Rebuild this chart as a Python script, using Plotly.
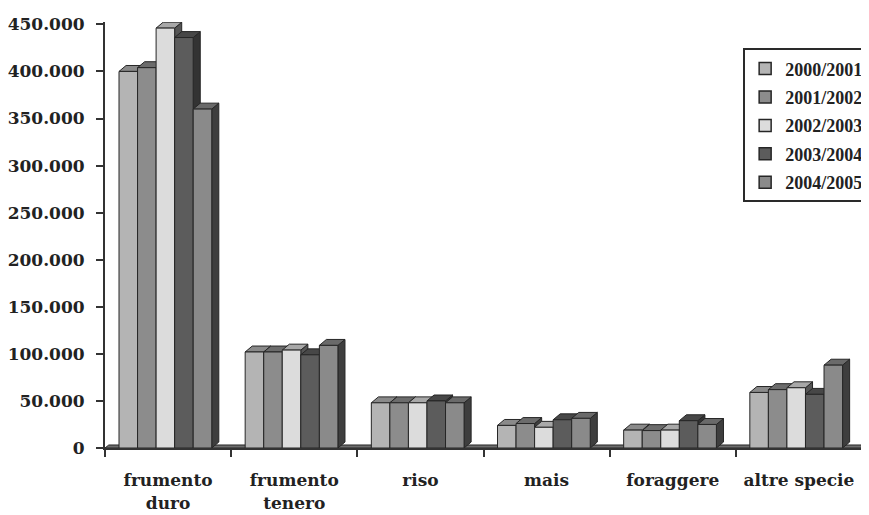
import plotly.graph_objects as go

# ---------------- data ----------------
categories = ["frumento duro", "frumento tenero", "riso", "mais", "foraggere", "altre specie"]
category_labels = ["frumento<br>duro", "frumento<br>tenero", "riso", "mais", "foraggere", "altre specie"]
seasons = ["2000/2001", "2001/2002", "2002/2003", "2003/2004", "2004/2005"]

v_2000_2001 = [400000, 102000, 48000, 24000, 19000, 59000]
v_2001_2002 = [404000, 102000, 48000, 26000, 18500, 62000]
v_2002_2003 = [446000, 104000, 48000, 22000, 19000, 64000]
v_2003_2004 = [436000, 99000, 50000, 30000, 29000, 57000]
v_2004_2005 = [360000, 109000, 48000, 31500, 25000, 88000]
series_values = [v_2000_2001, v_2001_2002, v_2002_2003, v_2003_2004, v_2004_2005]

y_tick_values = [0, 50000, 100000, 150000, 200000, 250000, 300000, 350000, 400000, 450000]
y_tick_labels = ["0", "50.000", "100.000", "150.000", "200.000", "250.000",
                 "300.000", "350.000", "400.000", "450.000"]

# ---------------- style ----------------
front_colors = ["#b4b4b4", "#8c8c8c", "#dcdcdc", "#5c5c5c", "#8a8a8a"]
top_colors = ["#8a8a8a", "#6c6c6c", "#a8a8a8", "#474747", "#6a6a6a"]
side_colors = ["#4a4a4a", "#3e3e3e", "#555555", "#333333", "#3e3e3e"]
edge = "#262626"
FONT = "DejaVu Serif"
LEGEND_FONT = "Liberation Serif"

bar_w = 0.147          # width of one bar (category units)
group_left = -0.389    # left edge of first bar relative to category centre
depth_x = 0.056        # oblique depth, x direction (category units)
depth_y = 6300         # oblique depth, y direction (value units)

fig = go.Figure()

# legend entries (the boxes themselves are drawn as polygons below)
for s, name in enumerate(seasons):
    fig.add_trace(go.Bar(
        x=[None], y=[None], name=name,
        marker=dict(color=front_colors[s], line=dict(color=edge, width=1.5)),
        legendgroup=name, hoverinfo="skip"))

# floor strip
fx = [-0.5, 5.5, 5.5 + 0.03, -0.5 + 0.03, -0.5]
fy = [0, 0, 3200, 3200, 0]
fig.add_trace(go.Scatter(x=fx, y=fy, fill="toself", fillcolor="#6e6e6e", mode="lines",
                         line=dict(color=edge, width=1), showlegend=False, hoverinfo="skip"))


def add_poly(xs, ys, color, name):
    fig.add_trace(go.Scatter(x=xs, y=ys, fill="toself", fillcolor=color, mode="lines",
                             line=dict(color=edge, width=1), showlegend=False,
                             name=name, hoverinfo="skip"))


for s, vals in enumerate(series_values):
    sx, sy, tx, ty, fxs, fys = [], [], [], [], [], []
    for c, h in enumerate(vals):
        xl = c + group_left + s * bar_w
        xr = xl + bar_w
        sx += [xr, xr + depth_x, xr + depth_x, xr, xr, None]
        sy += [0, depth_y, h + depth_y, h, 0, None]
        tx += [xl, xl + depth_x, xr + depth_x, xr, xl, None]
        ty += [h, h + depth_y, h + depth_y, h, h, None]
        fxs += [xl, xr, xr, xl, xl, None]
        fys += [0, 0, h, h, 0, None]
    add_poly(sx, sy, side_colors[s], seasons[s])
    add_poly(tx, ty, top_colors[s], seasons[s])
    add_poly(fxs, fys, front_colors[s], seasons[s])

fig.update_layout(
    width=861, height=507,
    margin=dict(l=97, r=7, t=14, b=67, autoexpand=False),
    paper_bgcolor="white", plot_bgcolor="white",
    font=dict(family=FONT, color="#222222", size=17, weight="bold"),
    showlegend=True,
    legend=dict(x=0.843, y=0.938, xanchor="left", yanchor="top",
                bgcolor="white", bordercolor="#2a2a2a", borderwidth=2,
                font=dict(family=LEGEND_FONT, size=18, color="#222222", weight="bold"),
                itemwidth=30, tracegroupgap=2, traceorder="grouped"),
    barmode="overlay",
)

fig.update_xaxes(
    range=[-0.5, 5.5], showgrid=False, zeroline=False,
    showline=True, linecolor="#333333", linewidth=2,
    tickmode="array", tickvals=list(range(len(categories))), ticktext=category_labels,
    ticks="", ticklabelstandoff=16,
    tickfont=dict(family=FONT, size=17, color="#222222", weight="bold"),
    minor=dict(tickmode="array", tickvals=[i - 0.5 for i in range(len(categories) + 1)],
               ticks="outside", ticklen=7, tickwidth=2, tickcolor="#333333"),
)
fig.update_yaxes(
    range=[0, 452500], showgrid=False, zeroline=False,
    showline=True, linecolor="#333333", linewidth=2,
    tickmode="array", tickvals=y_tick_values, ticktext=y_tick_labels,
    ticks="outside", ticklen=7, tickwidth=2, tickcolor="#333333",
    ticklabelstandoff=8,
    tickfont=dict(family=FONT, size=17, color="#222222", weight="bold"),
)

fig.write_html("out.html")
